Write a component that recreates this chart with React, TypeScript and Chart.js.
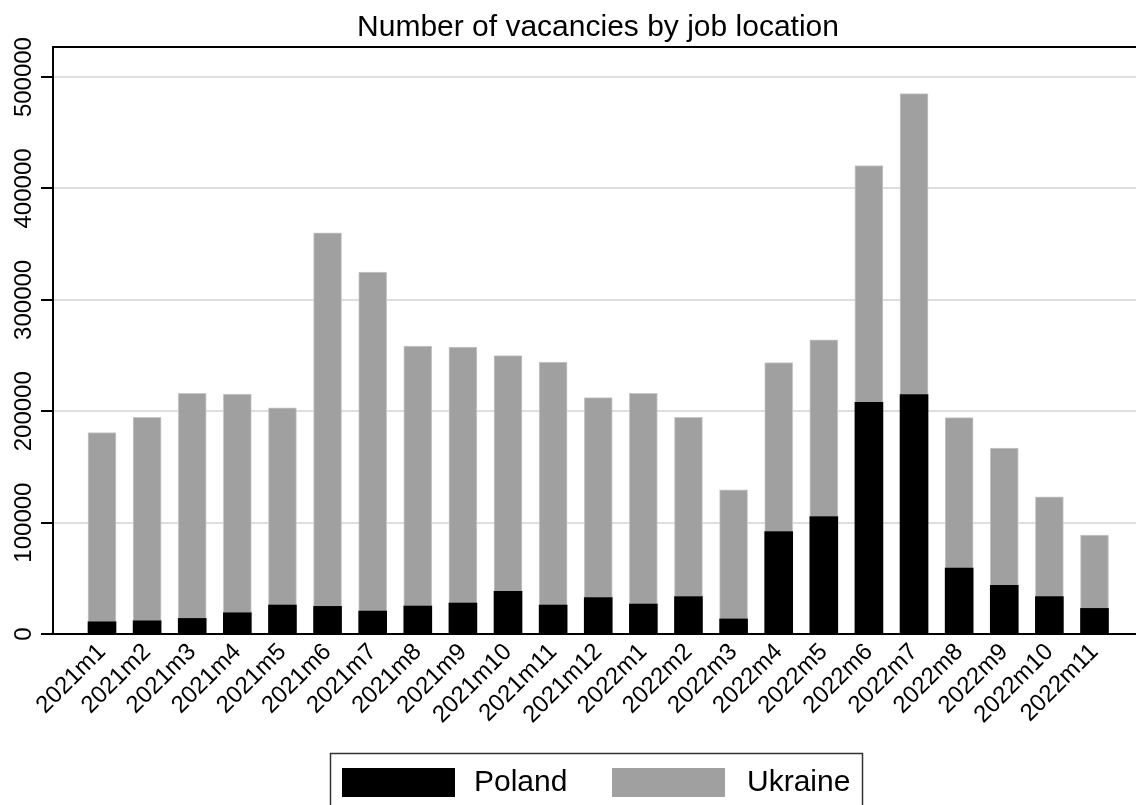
import { useEffect, useRef } from 'react';
import { Chart, registerables } from 'chart.js';

Chart.register(...registerables);

const MONTHS = [
  '2021m1', '2021m2', '2021m3', '2021m4', '2021m5', '2021m6', '2021m7', '2021m8',
  '2021m9', '2021m10', '2021m11', '2021m12', '2022m1', '2022m2', '2022m3', '2022m4',
  '2022m5', '2022m6', '2022m7', '2022m8', '2022m9', '2022m10', '2022m11',
];

const POLAND = [
  11000, 11900, 14000, 19100, 26000, 24800, 20600, 25100,
  27800, 38200, 26000, 32600, 26900, 33700, 13500, 92000,
  105500, 208100, 214900, 59200, 43600, 33500, 23000,
];

const UKRAINE = [
  169800, 182700, 202100, 196400, 177000, 335400, 304300, 233500,
  229900, 211700, 218200, 179600, 189200, 160900, 115900, 151600,
  158700, 212500, 270300, 135100, 123400, 89600, 65800,
];

const Y_TICKS = [0, 100000, 200000, 300000, 400000, 500000];

const TITLE = 'Number of vacancies by job location';
const FONT = '"Liberation Sans", Arial, sans-serif';

const decorPlugin = {
  id: 'decor',
  afterDraw(chart: any) {
    const { ctx, chartArea, scales } = chart;
    ctx.save();
    // top frame line
    ctx.strokeStyle = '#000';
    ctx.lineWidth = 2;
    ctx.beginPath();
    ctx.moveTo(chartArea.left - 1, chartArea.top);
    ctx.lineTo(chartArea.right, chartArea.top);
    ctx.stroke();

    // title
    ctx.fillStyle = '#000';
    ctx.font = `30px ${FONT}`;
    ctx.textAlign = 'center';
    ctx.textBaseline = 'middle';
    ctx.fillText(TITLE, 598, 28);

    // y tick labels (rotated)
    const ys = scales.y;
    ctx.font = `24px ${FONT}`;
    Y_TICKS.forEach((v) => {
      const py = ys.getPixelForValue(v);
      ctx.save();
      ctx.translate(24, py);
      ctx.rotate(-Math.PI / 2);
      ctx.textAlign = 'center';
      ctx.textBaseline = 'middle';
      ctx.fillText(String(v), 0, 0);
      ctx.restore();
    });

    // legend
    const ds = chart.data.datasets;
    ctx.strokeStyle = '#333';
    ctx.lineWidth = 1.5;
    ctx.strokeRect(330.5, 753.5, 532, 100);
    const items = [
      { sx: 342, tx: 474 },
      { sx: 612, tx: 747 },
    ];
    ctx.font = `30px ${FONT}`;
    ctx.textAlign = 'left';
    ctx.textBaseline = 'middle';
    items.forEach((it, i) => {
      ctx.fillStyle = ds[i].backgroundColor;
      ctx.fillRect(it.sx, 768, 113, 29);
      ctx.fillStyle = '#000';
      ctx.fillText(ds[i].label, it.tx, 783);
    });
    ctx.restore();
  },
};

export default function App() {
  const ref = useRef<HTMLCanvasElement>(null);

  useEffect(() => {
    if (!ref.current) return;
    Chart.defaults.font.family = FONT;
    const chart = new Chart(ref.current, {
      type: 'bar',
      data: {
        datasets: [
          {
            label: 'Poland',
            data: POLAND.map((v, i) => ({ x: i, y: v })),
            backgroundColor: '#000000',
            borderWidth: 0,
            barThickness: 28,
          },
          {
            label: 'Ukraine',
            data: UKRAINE.map((v, i) => ({ x: i, y: v })),
            backgroundColor: '#a0a0a0',
            borderColor: '#c8c8c8',
            borderWidth: 1,
            barThickness: 28,
          },
        ],
      } as any,
      options: {
        animation: false,
        responsive: false,
        devicePixelRatio: 1,
        layout: { padding: { top: 47, left: 0, right: 0, bottom: 0 } },
        plugins: {
          legend: { display: false },
          title: { display: false },
          tooltip: { enabled: false },
        },
        scales: {
          x: {
            type: 'linear',
            stacked: true,
            offset: false,
            bounds: 'data',
            min: -1.086,
            max: 22.92,
            afterBuildTicks: (s: any) => {
              s.ticks = MONTHS.map((_, i) => ({ value: i }));
            },
            afterFit: (s: any) => {
              s.height = 171;
            },
            grid: { display: false, offset: false },
            border: { display: true, color: '#000', width: 2 },
            ticks: {
              autoSkip: false,
              minRotation: 45,
              maxRotation: 45,
              padding: -4,
              color: '#000',
              font: { size: 24, family: FONT },
              callback: (v: any) => MONTHS[v] ?? '',
            },
          },
          y: {
            stacked: true,
            bounds: 'data',
            min: 0,
            max: 527000,
            afterBuildTicks: (s: any) => {
              s.ticks = Y_TICKS.map((v) => ({ value: v }));
            },
            afterFit: (s: any) => {
              s.width = 53;
            },
            ticks: {
              display: false,
            },
            grid: {
              color: '#dedede',
              lineWidth: 2,
              tickColor: '#000',
              tickLength: 12,
              tickWidth: 2,
              drawTicks: true,
            },
            border: { display: true, color: '#000', width: 2 },
          },
        },
      } as any,
      plugins: [decorPlugin],
    });
    return () => chart.destroy();
  }, []);

  return (
    <div style={{ position: 'absolute', left: 0, top: 0, width: 1136, height: 805, background: '#fff' }}>
      <canvas ref={ref} width={1136} height={805} style={{ display: 'block' }} />
    </div>
  );
}
